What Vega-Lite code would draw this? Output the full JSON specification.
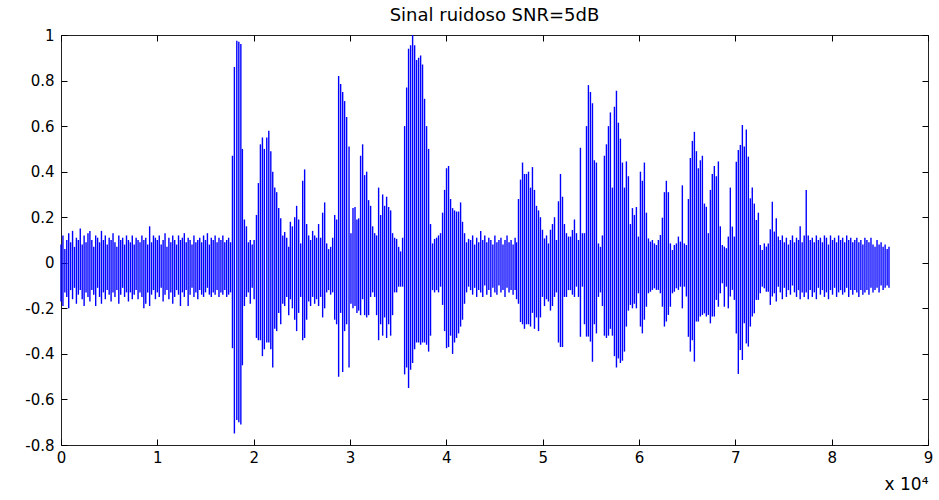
{
  "$schema": "https://vega.github.io/schema/vega-lite/v6.json",
  "width": 867,
  "height": 410,
  "autosize": {"type": "none"},
  "padding": {"left": 61, "top": 35, "right": 11, "bottom": 55},
  "title": {"text": "Sinal ruidoso SNR=5dB", "font": "DejaVu Sans", "fontSize": 18, "fontWeight": "normal", "color": "#000000", "frame": "group", "anchor": "middle", "baseline": "alphabetic", "offset": -11},
  "datasets": {
    "sig": [
      {"x":0,"h":0.08,"l":-0.17},{"x":200,"h":0.12,"l":-0.19},{"x":400,"h":0.06,"l":-0.13},{"x":600,"h":0.1,"l":-0.15},{"x":800,"h":0.13,"l":-0.2},
      {"x":1000,"h":0.09,"l":-0.12},{"x":1200,"h":0.14,"l":-0.16},{"x":1400,"h":0.07,"l":-0.11},{"x":1600,"h":0.11,"l":-0.18},{"x":1800,"h":0.1,"l":-0.14},
      {"x":2000,"h":0.15,"l":-0.12},{"x":2200,"h":0.08,"l":-0.16},{"x":2400,"h":0.12,"l":-0.19},{"x":2600,"h":0.09,"l":-0.13},{"x":2800,"h":0.13,"l":-0.15},
      {"x":3000,"h":0.14,"l":-0.17},{"x":3200,"h":0.1,"l":-0.12},{"x":3400,"h":0.07,"l":-0.14},{"x":3600,"h":0.12,"l":-0.19},{"x":3800,"h":0.11,"l":-0.11},
      {"x":4000,"h":0.09,"l":-0.15},{"x":4200,"h":0.14,"l":-0.18},{"x":4400,"h":0.1,"l":-0.13},{"x":4600,"h":0.12,"l":-0.16},{"x":4800,"h":0.08,"l":-0.12},
      {"x":5000,"h":0.11,"l":-0.14},{"x":5200,"h":0.1,"l":-0.17},{"x":5400,"h":0.13,"l":-0.13},{"x":5600,"h":0.09,"l":-0.15},{"x":5800,"h":0.07,"l":-0.12},
      {"x":6000,"h":0.12,"l":-0.18},{"x":6200,"h":0.1,"l":-0.14},{"x":6400,"h":0.11,"l":-0.11},{"x":6600,"h":0.08,"l":-0.15},{"x":6800,"h":0.12,"l":-0.13},
      {"x":7000,"h":0.1,"l":-0.17},{"x":7200,"h":0.09,"l":-0.13},{"x":7400,"h":0.12,"l":-0.16},{"x":7600,"h":0.08,"l":-0.14},{"x":7800,"h":0.11,"l":-0.12},
      {"x":8000,"h":0.1,"l":-0.16},{"x":8200,"h":0.09,"l":-0.13},{"x":8400,"h":0.12,"l":-0.15},{"x":8600,"h":0.1,"l":-0.2},{"x":8800,"h":0.11,"l":-0.18},
      {"x":9000,"h":0.08,"l":-0.13},{"x":9200,"h":0.16,"l":-0.19},{"x":9400,"h":0.09,"l":-0.14},{"x":9600,"h":0.12,"l":-0.12},{"x":9800,"h":0.11,"l":-0.16},
      {"x":10000,"h":0.1,"l":-0.13},{"x":10200,"h":0.12,"l":-0.15},{"x":10400,"h":0.08,"l":-0.11},{"x":10600,"h":0.1,"l":-0.17},{"x":10800,"h":0.13,"l":-0.14},
      {"x":11000,"h":0.07,"l":-0.12},{"x":11200,"h":0.11,"l":-0.16},{"x":11400,"h":0.09,"l":-0.13},{"x":11600,"h":0.12,"l":-0.18},{"x":11800,"h":0.1,"l":-0.15},
      {"x":12000,"h":0.08,"l":-0.12},{"x":12200,"h":0.12,"l":-0.14},{"x":12400,"h":0.1,"l":-0.19},{"x":12600,"h":0.11,"l":-0.13},{"x":12800,"h":0.13,"l":-0.15},
      {"x":13000,"h":0.09,"l":-0.12},{"x":13200,"h":0.11,"l":-0.19},{"x":13400,"h":0.1,"l":-0.14},{"x":13600,"h":0.08,"l":-0.11},{"x":13800,"h":0.12,"l":-0.15},
      {"x":14000,"h":0.09,"l":-0.13},{"x":14200,"h":0.1,"l":-0.16},{"x":14400,"h":0.11,"l":-0.12},{"x":14600,"h":0.09,"l":-0.14},{"x":14800,"h":0.12,"l":-0.15},
      {"x":15000,"h":0.1,"l":-0.13},{"x":15200,"h":0.13,"l":-0.11},{"x":15400,"h":0.08,"l":-0.14},{"x":15600,"h":0.11,"l":-0.15},{"x":15800,"h":0.1,"l":-0.13},
      {"x":16000,"h":0.12,"l":-0.14},{"x":16200,"h":0.09,"l":-0.12},{"x":16400,"h":0.11,"l":-0.15},{"x":16600,"h":0.1,"l":-0.13},{"x":16800,"h":0.12,"l":-0.14},
      {"x":17000,"h":0.09,"l":-0.12},{"x":17200,"h":0.1,"l":-0.15},{"x":17400,"h":0.11,"l":-0.14},{"x":17600,"h":0.09,"l":-0.13},
      {"x":17800,"h":0.47,"l":-0.375},{"x":18000,"h":0.86,"l":-0.75},{"x":18250,"h":0.975,"l":-0.69},{"x":18460,"h":0.97,"l":-0.7},{"x":18670,"h":0.96,"l":-0.71},
      {"x":18830,"h":0.5,"l":-0.45},{"x":19040,"h":0.19,"l":-0.19},{"x":19250,"h":0.16,"l":-0.15},{"x":19450,"h":0.09,"l":-0.13},{"x":19650,"h":0.1,"l":-0.18},
      {"x":19850,"h":0.08,"l":-0.11},{"x":20050,"h":0.1,"l":-0.16},{"x":20290,"h":0.21,"l":-0.33},{"x":20490,"h":0.35,"l":-0.34},{"x":20700,"h":0.52,"l":-0.34},
      {"x":20910,"h":0.55,"l":-0.41},{"x":21110,"h":0.5,"l":-0.38},{"x":21360,"h":0.55,"l":-0.35},{"x":21570,"h":0.58,"l":-0.35},{"x":21780,"h":0.49,"l":-0.38},
      {"x":21980,"h":0.4,"l":-0.46},{"x":22190,"h":0.33,"l":-0.29},{"x":22390,"h":0.31,"l":-0.3},{"x":22600,"h":0.24,"l":-0.22},{"x":22810,"h":0.195,"l":-0.27},
      {"x":23020,"h":0.12,"l":-0.18},{"x":23220,"h":0.135,"l":-0.19},{"x":23430,"h":0.11,"l":-0.15},{"x":23640,"h":0.07,"l":-0.23},{"x":23810,"h":0.18,"l":-0.16},
      {"x":24020,"h":0.16,"l":-0.2},{"x":24260,"h":0.2,"l":-0.25},{"x":24460,"h":0.25,"l":-0.3},{"x":24670,"h":0.19,"l":-0.22},{"x":24880,"h":0.085,"l":-0.15},
      {"x":25090,"h":0.36,"l":-0.34},{"x":25290,"h":0.41,"l":-0.33},{"x":25500,"h":0.17,"l":-0.25},{"x":25710,"h":0.12,"l":-0.17},{"x":25910,"h":0.1,"l":-0.19},
      {"x":26120,"h":0.14,"l":-0.15},{"x":26330,"h":0.12,"l":-0.18},{"x":26530,"h":0.11,"l":-0.16},{"x":26740,"h":0.17,"l":-0.19},{"x":26950,"h":0.11,"l":-0.15},
      {"x":27160,"h":0.22,"l":-0.24},{"x":27370,"h":0.265,"l":-0.2},{"x":27580,"h":0.085,"l":-0.13},{"x":27780,"h":0.06,"l":-0.12},{"x":27990,"h":0.07,"l":-0.14},
      {"x":28200,"h":0.11,"l":-0.13},{"x":28410,"h":0.21,"l":-0.25},{"x":28610,"h":0.19,"l":-0.27},{"x":28820,"h":0.82,"l":-0.5},{"x":29030,"h":0.785,"l":-0.22},
      {"x":29240,"h":0.75,"l":-0.48},{"x":29440,"h":0.71,"l":-0.3},{"x":29650,"h":0.64,"l":-0.27},{"x":29900,"h":0.51,"l":-0.46},{"x":30100,"h":0.13,"l":-0.18},
      {"x":30310,"h":0.24,"l":-0.2},{"x":30520,"h":0.245,"l":-0.19},{"x":30720,"h":0.19,"l":-0.22},{"x":30900,"h":0.195,"l":-0.21},{"x":31100,"h":0.47,"l":-0.23},
      {"x":31310,"h":0.52,"l":-0.16},{"x":31520,"h":0.385,"l":-0.23},{"x":31730,"h":0.4,"l":-0.24},{"x":31930,"h":0.275,"l":-0.23},{"x":32140,"h":0.25,"l":-0.15},
      {"x":32350,"h":0.16,"l":-0.13},{"x":32560,"h":0.13,"l":-0.15},{"x":32760,"h":0.12,"l":-0.23},{"x":32970,"h":0.33,"l":-0.34},{"x":33180,"h":0.21,"l":-0.27},
      {"x":33390,"h":0.3,"l":-0.32},{"x":33590,"h":0.25,"l":-0.24},{"x":33800,"h":0.29,"l":-0.33},{"x":34010,"h":0.245,"l":-0.27},{"x":34220,"h":0.23,"l":-0.32},
      {"x":34420,"h":0.13,"l":-0.23},{"x":34630,"h":0.11,"l":-0.13},{"x":34840,"h":0.105,"l":-0.13},{"x":35050,"h":0.07,"l":-0.105},{"x":35250,"h":0.05,"l":-0.105},
      {"x":35460,"h":0.11,"l":-0.105},{"x":35670,"h":0.6,"l":-0.49},{"x":35880,"h":0.77,"l":-0.46},{"x":36080,"h":0.94,"l":-0.55},{"x":36290,"h":0.955,"l":-0.47},
      {"x":36500,"h":1.0,"l":-0.44},{"x":36710,"h":0.955,"l":-0.38},{"x":36910,"h":0.89,"l":-0.35},{"x":37120,"h":0.9,"l":-0.35},{"x":37330,"h":0.91,"l":-0.36},
      {"x":37530,"h":0.87,"l":-0.35},{"x":37740,"h":0.72,"l":-0.35},{"x":37950,"h":0.6,"l":-0.36},{"x":38160,"h":0.5,"l":-0.39},{"x":38360,"h":0.17,"l":-0.32},
      {"x":38570,"h":0.085,"l":-0.12},{"x":38780,"h":0.105,"l":-0.13},{"x":38990,"h":0.11,"l":-0.12},{"x":39190,"h":0.12,"l":-0.13},{"x":39400,"h":0.13,"l":-0.105},
      {"x":39610,"h":0.22,"l":-0.185},{"x":39820,"h":0.32,"l":-0.3},{"x":40020,"h":0.415,"l":-0.375},{"x":40230,"h":0.425,"l":-0.37},{"x":40440,"h":0.28,"l":-0.32},
      {"x":40650,"h":0.24,"l":-0.4},{"x":40850,"h":0.23,"l":-0.35},{"x":41060,"h":0.225,"l":-0.33},{"x":41270,"h":0.225,"l":-0.31},{"x":41480,"h":0.265,"l":-0.28},
      {"x":41680,"h":0.18,"l":-0.25},{"x":41890,"h":0.13,"l":-0.18},{"x":42100,"h":0.09,"l":-0.13},{"x":42310,"h":0.105,"l":-0.105},
      {"x":42520,"h":0.1,"l":-0.12},{"x":42730,"h":0.12,"l":-0.14},{"x":42940,"h":0.08,"l":-0.11},{"x":43150,"h":0.11,"l":-0.15},{"x":43360,"h":0.09,"l":-0.12},
      {"x":43570,"h":0.14,"l":-0.13},{"x":43780,"h":0.1,"l":-0.15},{"x":43990,"h":0.12,"l":-0.1},{"x":44200,"h":0.09,"l":-0.14},{"x":44410,"h":0.11,"l":-0.12},
      {"x":44620,"h":0.1,"l":-0.15},{"x":44830,"h":0.08,"l":-0.11},{"x":45040,"h":0.12,"l":-0.13},{"x":45250,"h":0.09,"l":-0.14},{"x":45460,"h":0.1,"l":-0.1},
      {"x":45670,"h":0.11,"l":-0.13},{"x":45880,"h":0.08,"l":-0.12},{"x":46090,"h":0.1,"l":-0.15},{"x":46300,"h":0.12,"l":-0.11},{"x":46510,"h":0.09,"l":-0.13},
      {"x":46720,"h":0.1,"l":-0.12},{"x":46930,"h":0.08,"l":-0.14},{"x":47140,"h":0.11,"l":-0.12},{"x":47290,"h":0.09,"l":-0.16},
      {"x":47490,"h":0.28,"l":-0.18},{"x":47700,"h":0.365,"l":-0.26},{"x":47910,"h":0.44,"l":-0.27},{"x":48110,"h":0.39,"l":-0.29},{"x":48320,"h":0.39,"l":-0.27},
      {"x":48530,"h":0.4,"l":-0.27},{"x":48740,"h":0.33,"l":-0.28},{"x":48940,"h":0.42,"l":-0.22},{"x":49150,"h":0.32,"l":-0.29},{"x":49360,"h":0.25,"l":-0.24},
      {"x":49570,"h":0.23,"l":-0.3},{"x":49770,"h":0.2,"l":-0.24},{"x":49980,"h":0.145,"l":-0.15},{"x":50190,"h":0.107,"l":-0.19},{"x":50400,"h":0.12,"l":-0.16},
      {"x":50600,"h":0.085,"l":-0.17},{"x":50810,"h":0.145,"l":-0.21},{"x":51020,"h":0.17,"l":-0.19},{"x":51230,"h":0.2,"l":-0.15},{"x":51430,"h":0.1,"l":-0.13},
      {"x":51640,"h":0.27,"l":-0.35},{"x":51850,"h":0.39,"l":-0.37},{"x":52060,"h":0.29,"l":-0.37},{"x":52260,"h":0.17,"l":-0.15},{"x":52470,"h":0.13,"l":-0.15},
      {"x":52680,"h":0.115,"l":-0.12},{"x":52890,"h":0.115,"l":-0.12},{"x":53090,"h":0.144,"l":-0.14},{"x":53300,"h":0.19,"l":-0.15},{"x":53510,"h":0.13,"l":-0.105},
      {"x":53720,"h":0.1,"l":-0.15},{"x":53920,"h":0.505,"l":-0.325},{"x":54130,"h":0.13,"l":-0.105},{"x":54340,"h":0.13,"l":-0.27},{"x":54550,"h":0.6,"l":-0.324},
      {"x":54750,"h":0.78,"l":-0.324},{"x":54960,"h":0.75,"l":-0.346},{"x":55170,"h":0.7,"l":-0.434},{"x":55370,"h":0.45,"l":-0.27},{"x":55580,"h":0.44,"l":-0.31},
      {"x":55790,"h":0.085,"l":-0.15},{"x":56000,"h":0.07,"l":-0.13},{"x":56200,"h":0.12,"l":-0.19},{"x":56410,"h":0.47,"l":-0.32},{"x":56620,"h":0.52,"l":-0.33},
      {"x":56830,"h":0.6,"l":-0.32},{"x":57030,"h":0.66,"l":-0.29},{"x":57240,"h":0.33,"l":-0.32},{"x":57450,"h":0.685,"l":-0.41},{"x":57660,"h":0.755,"l":-0.46},
      {"x":57860,"h":0.615,"l":-0.42},{"x":58070,"h":0.545,"l":-0.44},{"x":58280,"h":0.44,"l":-0.43},{"x":58490,"h":0.33,"l":-0.39},{"x":58690,"h":0.445,"l":-0.28},
      {"x":58900,"h":0.38,"l":-0.21},{"x":59110,"h":0.17,"l":-0.185},{"x":59320,"h":0.24,"l":-0.2},{"x":59520,"h":0.21,"l":-0.18},{"x":59730,"h":0.245,"l":-0.2},
      {"x":59940,"h":0.115,"l":-0.134},{"x":60150,"h":0.4,"l":-0.28},{"x":60350,"h":0.36,"l":-0.31},{"x":60560,"h":0.44,"l":-0.25},{"x":60770,"h":0.22,"l":-0.193},
      {"x":60980,"h":0.107,"l":-0.134},{"x":61190,"h":0.093,"l":-0.127},{"x":61390,"h":0.1,"l":-0.119},{"x":61600,"h":0.085,"l":-0.112},{"x":61810,"h":0.078,"l":-0.119},
      {"x":62010,"h":0.1,"l":-0.119},{"x":62220,"h":0.122,"l":-0.134},{"x":62430,"h":0.198,"l":-0.193},{"x":62640,"h":0.31,"l":-0.28},{"x":62840,"h":0.36,"l":-0.258},
      {"x":63050,"h":0.31,"l":-0.229},{"x":63260,"h":0.085,"l":-0.193},{"x":63470,"h":0.056,"l":-0.134},{"x":63670,"h":0.078,"l":-0.127},{"x":63880,"h":0.085,"l":-0.112},
      {"x":64090,"h":0.115,"l":-0.119},{"x":64300,"h":0.093,"l":-0.105},{"x":64500,"h":0.34,"l":-0.2},{"x":64710,"h":0.085,"l":-0.105},{"x":64920,"h":0.078,"l":-0.148},
      {"x":65130,"h":0.28,"l":-0.325},{"x":65330,"h":0.46,"l":-0.39},{"x":65540,"h":0.535,"l":-0.34},{"x":65750,"h":0.575,"l":-0.434},{"x":65960,"h":0.49,"l":-0.258},
      {"x":66160,"h":0.415,"l":-0.258},{"x":66370,"h":0.45,"l":-0.236},{"x":66580,"h":0.47,"l":-0.229},{"x":66790,"h":0.26,"l":-0.222},{"x":66990,"h":0.246,"l":-0.236},
      {"x":67200,"h":0.13,"l":-0.229},{"x":67410,"h":0.32,"l":-0.266},{"x":67610,"h":0.39,"l":-0.236},{"x":67820,"h":0.425,"l":-0.236},{"x":68030,"h":0.38,"l":-0.163},
      {"x":68240,"h":0.445,"l":-0.193},{"x":68440,"h":0.16,"l":-0.134},{"x":68650,"h":0.078,"l":-0.09},{"x":68860,"h":0.071,"l":-0.193},{"x":69070,"h":0.064,"l":-0.105},
      {"x":69270,"h":0.115,"l":-0.2},{"x":69480,"h":0.33,"l":-0.148},{"x":69690,"h":0.159,"l":-0.119},{"x":69900,"h":0.115,"l":-0.163},{"x":70100,"h":0.444,"l":-0.31},
      {"x":70310,"h":0.495,"l":-0.488},{"x":70520,"h":0.517,"l":-0.383},{"x":70730,"h":0.605,"l":-0.427},{"x":70930,"h":0.51,"l":-0.266},{"x":71140,"h":0.585,"l":-0.354},
      {"x":71350,"h":0.466,"l":-0.368},{"x":71560,"h":0.283,"l":-0.28},{"x":71760,"h":0.33,"l":-0.236},{"x":71970,"h":0.26,"l":-0.222},{"x":72180,"h":0.188,"l":-0.163},
      {"x":72390,"h":0.22,"l":-0.163},{"x":72590,"h":0.078,"l":-0.134},{"x":72800,"h":0.056,"l":-0.105},{"x":73010,"h":0.085,"l":-0.112},{"x":73220,"h":0.071,"l":-0.127},
      {"x":73420,"h":0.085,"l":-0.127},{"x":73630,"h":0.147,"l":-0.185},{"x":73840,"h":0.268,"l":-0.148},{"x":74050,"h":0.137,"l":-0.134},{"x":74250,"h":0.195,"l":-0.17},
      {"x":74460,"h":0.115,"l":-0.105},
      {"x":74670,"h":0.1,"l":-0.13},{"x":74880,"h":0.12,"l":-0.16},{"x":75090,"h":0.09,"l":-0.11},{"x":75300,"h":0.11,"l":-0.15},{"x":75510,"h":0.08,"l":-0.12},
      {"x":75720,"h":0.1,"l":-0.14},{"x":75930,"h":0.12,"l":-0.1},{"x":76140,"h":0.09,"l":-0.13},{"x":76350,"h":0.11,"l":-0.15},{"x":76560,"h":0.1,"l":-0.12},
      {"x":76730,"h":0.16,"l":-0.16},{"x":76940,"h":0.09,"l":-0.13},{"x":77150,"h":0.12,"l":-0.15},{"x":77360,"h":0.32,"l":-0.13},{"x":77570,"h":0.12,"l":-0.16},
      {"x":77780,"h":0.1,"l":-0.12},{"x":77990,"h":0.11,"l":-0.15},{"x":78200,"h":0.09,"l":-0.13},{"x":78410,"h":0.12,"l":-0.16},{"x":78620,"h":0.1,"l":-0.11},
      {"x":78830,"h":0.11,"l":-0.14},{"x":79040,"h":0.09,"l":-0.12},{"x":79250,"h":0.12,"l":-0.15},{"x":79460,"h":0.11,"l":-0.13},{"x":79670,"h":0.08,"l":-0.16},
      {"x":79880,"h":0.12,"l":-0.12},{"x":80090,"h":0.1,"l":-0.14},{"x":80300,"h":0.11,"l":-0.11},{"x":80510,"h":0.09,"l":-0.15},{"x":80720,"h":0.12,"l":-0.13},
      {"x":80930,"h":0.1,"l":-0.12},{"x":81140,"h":0.11,"l":-0.14},{"x":81350,"h":0.09,"l":-0.13},{"x":81560,"h":0.12,"l":-0.11},{"x":81770,"h":0.1,"l":-0.15},
      {"x":81980,"h":0.11,"l":-0.12},{"x":82190,"h":0.09,"l":-0.14},{"x":82400,"h":0.1,"l":-0.12},{"x":82610,"h":0.11,"l":-0.13},{"x":82820,"h":0.09,"l":-0.15},
      {"x":83030,"h":0.1,"l":-0.12},{"x":83240,"h":0.08,"l":-0.14},{"x":83450,"h":0.11,"l":-0.13},{"x":83660,"h":0.1,"l":-0.12},{"x":83870,"h":0.09,"l":-0.14},
      {"x":84080,"h":0.11,"l":-0.11},{"x":84290,"h":0.08,"l":-0.13},{"x":84500,"h":0.07,"l":-0.12},{"x":84710,"h":0.1,"l":-0.11},{"x":84920,"h":0.08,"l":-0.13},
      {"x":85130,"h":0.09,"l":-0.1},{"x":85340,"h":0.07,"l":-0.12},{"x":85550,"h":0.08,"l":-0.11},{"x":85760,"h":0.06,"l":-0.1},{"x":85950,"h":0.07,"l":-0.11}
    ],
    "one": [{"x": 0, "h": 0}]
  },
  "layer": [
    {
      "data": {"name": "sig"},
      "mark": {"type": "rule", "color": "#0000ff", "strokeWidth": 1.4},
      "encoding": {
        "x": {"field": "x", "type": "quantitative", "scale": {"domain": [0, 90000], "nice": false, "zero": false},
          "axis": {"orient": "bottom", "values": [0,10000,20000,30000,40000,50000,60000,70000,80000,90000], "labelExpr": "datum.value / 10000", "ticks": false, "domain": false, "grid": false, "labelFlush": false, "labelOverlap": false, "labelPadding": 5, "labelFont": "DejaVu Sans", "labelFontSize": 15, "labelColor": "#000000", "title": "x 10⁴", "titleFont": "DejaVu Sans", "titleFontSize": 17, "titleFontWeight": "normal", "titleColor": "#000000", "titleAnchor": "end", "titleAlign": "right", "titlePadding": 11}},
        "y": {"field": "h", "type": "quantitative", "scale": {"domain": [-0.8, 1], "nice": false, "zero": false},
          "axis": {"orient": "left", "values": [-0.8,-0.6,-0.4,-0.2,0,0.2,0.4,0.6,0.8,1], "labelExpr": "'' + round(datum.value * 10) / 10", "ticks": false, "domain": false, "grid": false, "labelOverlap": false, "labelPadding": 7, "labelFont": "DejaVu Sans", "labelFontSize": 15, "labelColor": "#000000", "title": null}},
        "y2": {"field": "l"}
      }
    },
    {
      "data": {"name": "one"},
      "mark": {"type": "point", "opacity": 0},
      "encoding": {
        "x": {"field": "x", "type": "quantitative", "scale": {"domain": [0, 90000], "nice": false, "zero": false},
          "axis": {"orient": "bottom", "offset": -6, "values": [0,10000,20000,30000,40000,50000,60000,70000,80000,90000], "labels": false, "domain": false, "grid": false, "ticks": true, "tickSize": 6, "tickColor": "#000000", "tickWidth": 1, "title": null}},
        "y": {"field": "h", "type": "quantitative", "scale": {"domain": [-0.8, 1], "nice": false, "zero": false},
          "axis": {"orient": "left", "offset": -6, "values": [-0.8,-0.6,-0.4,-0.2,0,0.2,0.4,0.6,0.8,1], "labels": false, "domain": false, "grid": false, "ticks": true, "tickSize": 6, "tickColor": "#000000", "tickWidth": 1, "title": null}}
      }
    },
    {
      "data": {"name": "one"},
      "mark": {"type": "point", "opacity": 0},
      "encoding": {
        "x": {"field": "x", "type": "quantitative", "scale": {"domain": [0, 90000], "nice": false, "zero": false},
          "axis": {"orient": "top", "offset": -6, "values": [0,10000,20000,30000,40000,50000,60000,70000,80000,90000], "labels": false, "domain": false, "grid": false, "ticks": true, "tickSize": 6, "tickColor": "#000000", "tickWidth": 1, "title": null}},
        "y": {"field": "h", "type": "quantitative", "scale": {"domain": [-0.8, 1], "nice": false, "zero": false},
          "axis": {"orient": "right", "offset": -6, "values": [-0.8,-0.6,-0.4,-0.2,0,0.2,0.4,0.6,0.8,1], "labels": false, "domain": false, "grid": false, "ticks": true, "tickSize": 6, "tickColor": "#000000", "tickWidth": 1, "title": null}}
      }
    }
  ],
  "resolve": {"axis": {"x": "independent", "y": "independent"}},
  "config": {
    "background": "#ffffff",
    "view": {"stroke": "#222222", "strokeWidth": 1}
  }
}
